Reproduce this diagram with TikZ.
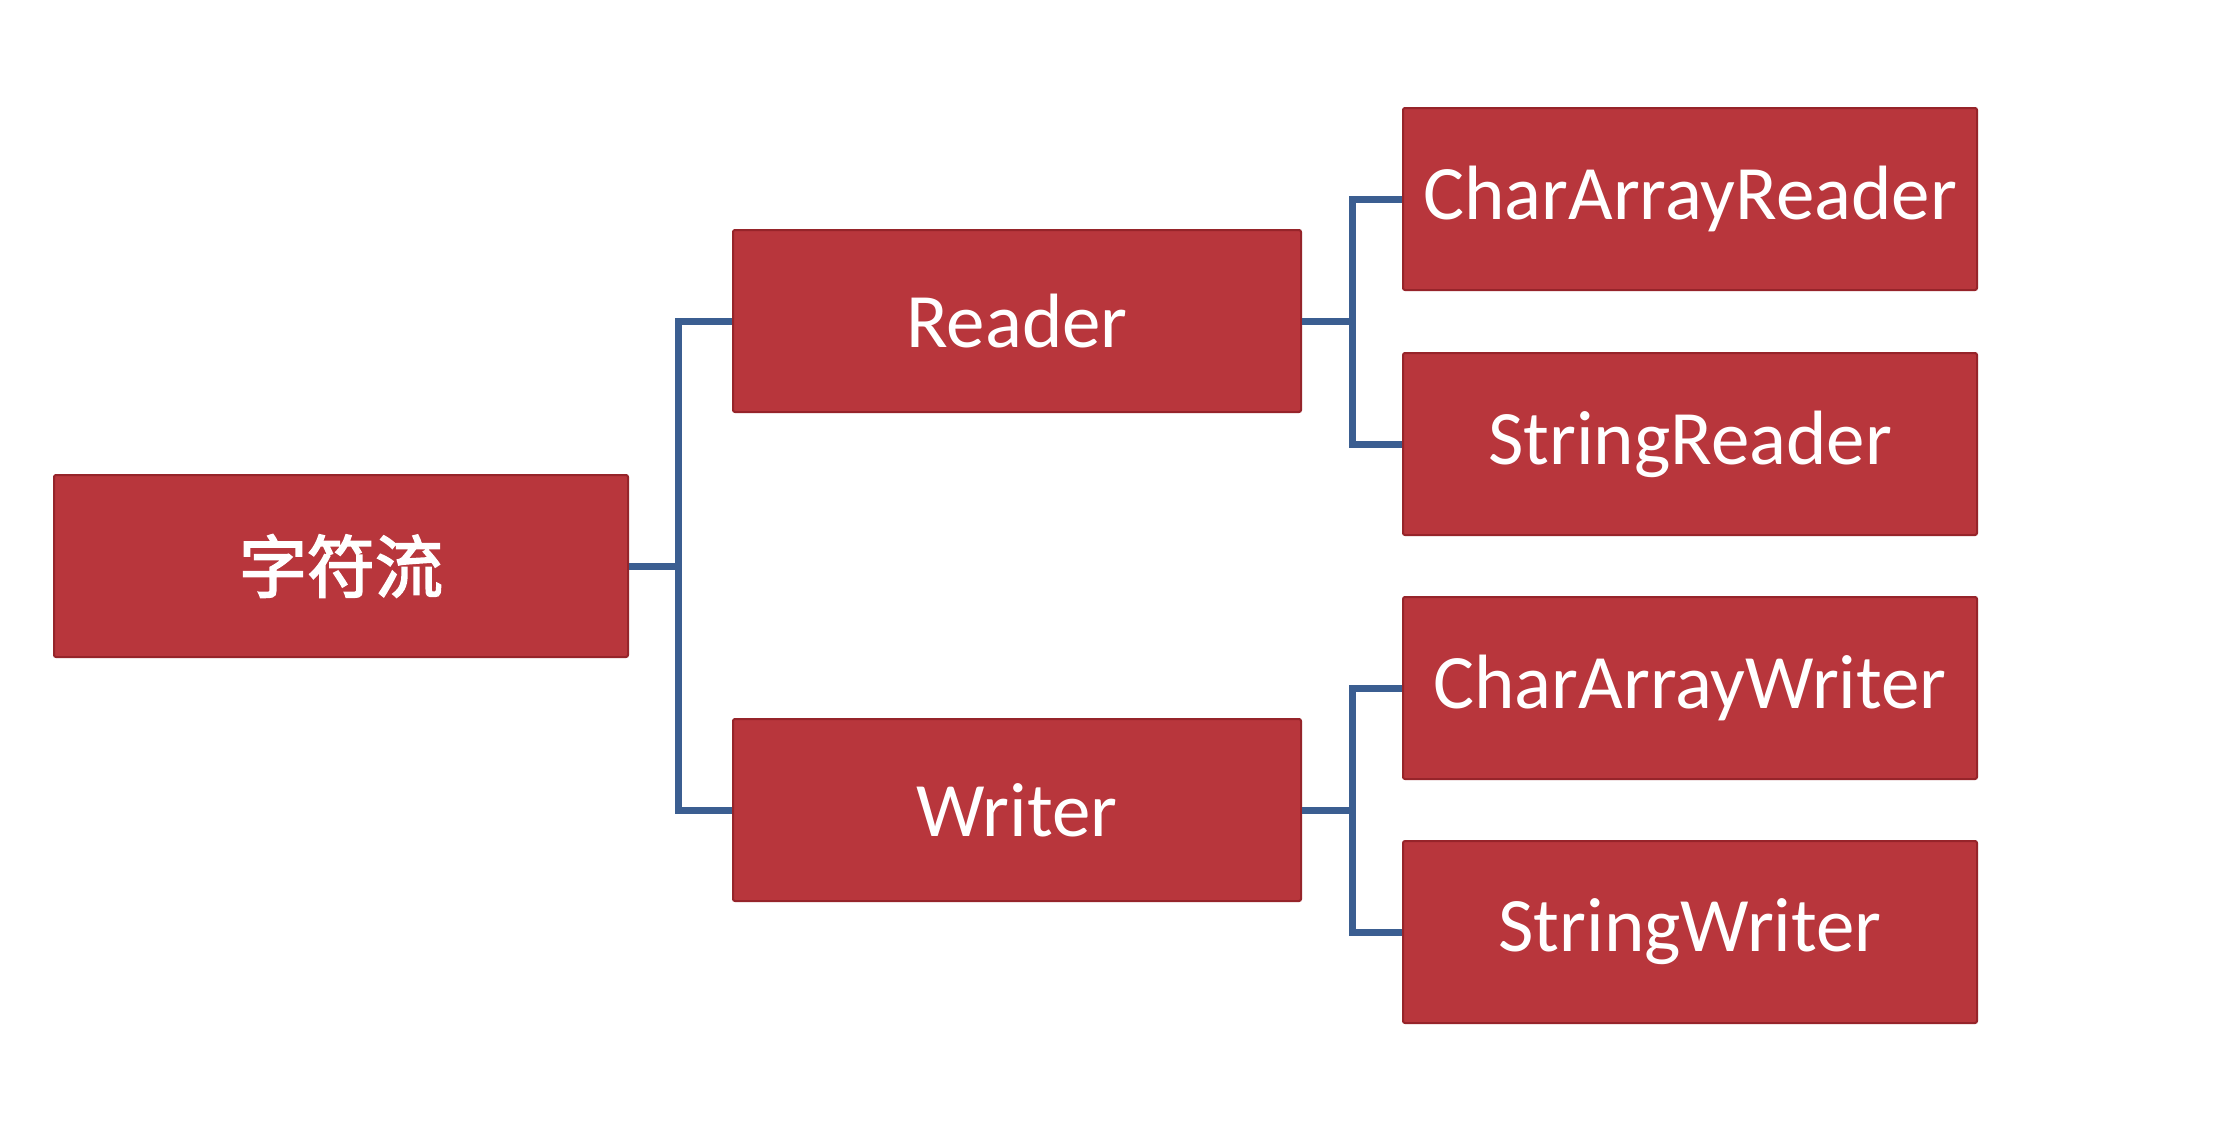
\documentclass[tikz,border=0pt]{standalone}
\usepackage{fontspec}
\setmainfont{Carlito}
\newfontfamily\cjk[FakeBold=2.5]{Noto Sans CJK SC}
\definecolor{boxred}{RGB}{184,54,60}
\definecolor{boxedge}{RGB}{150,36,42}
\definecolor{connblue}{RGB}{59,94,145}
\begin{document}
\begin{tikzpicture}[x=1pt,y=-1pt,
  box/.style={rectangle, fill=boxred, draw=boxedge, line width=2pt, rounded corners=2pt,
    minimum width=574pt, minimum height=182pt, inner sep=0pt, text=white,
    font=\fontsize{77}{90}\selectfont},
  conn/.style={draw=connblue, line width=7pt}]
\useasboundingbox[fill=white] (0,0) rectangle (2224,1120);
\node[box, font=\cjk\fontsize{68}{80}\selectfont] (root) at (341,566) {字符流};
\node[box, minimum width=568pt] (reader) at (1017,321) {Reader};
\node[box, minimum width=568pt] (writer) at (1017,810) {Writer};
\node[box] (car) at (1690,199) {CharArrayReader};
\node[box] (sr) at (1690,444) {StringReader};
\node[box] (caw) at (1690,688) {CharArrayWriter};
\node[box] (sw) at (1690,932) {StringWriter};
\begin{scope}[on background layer/.try]
\draw[conn] (root.east) -- ++(49,0) coordinate (j1);
\draw[conn] (j1) |- (reader.west);
\draw[conn] (j1) |- (writer.west);
\draw[conn] (reader.east) -- ++(50,0) coordinate (j2);
\draw[conn] (j2) |- (car.west);
\draw[conn] (j2) |- (sr.west);
\draw[conn] (writer.east) -- ++(50,0) coordinate (j3);
\draw[conn] (j3) |- (caw.west);
\draw[conn] (j3) |- (sw.west);
\end{scope}
\end{tikzpicture}
\end{document}
